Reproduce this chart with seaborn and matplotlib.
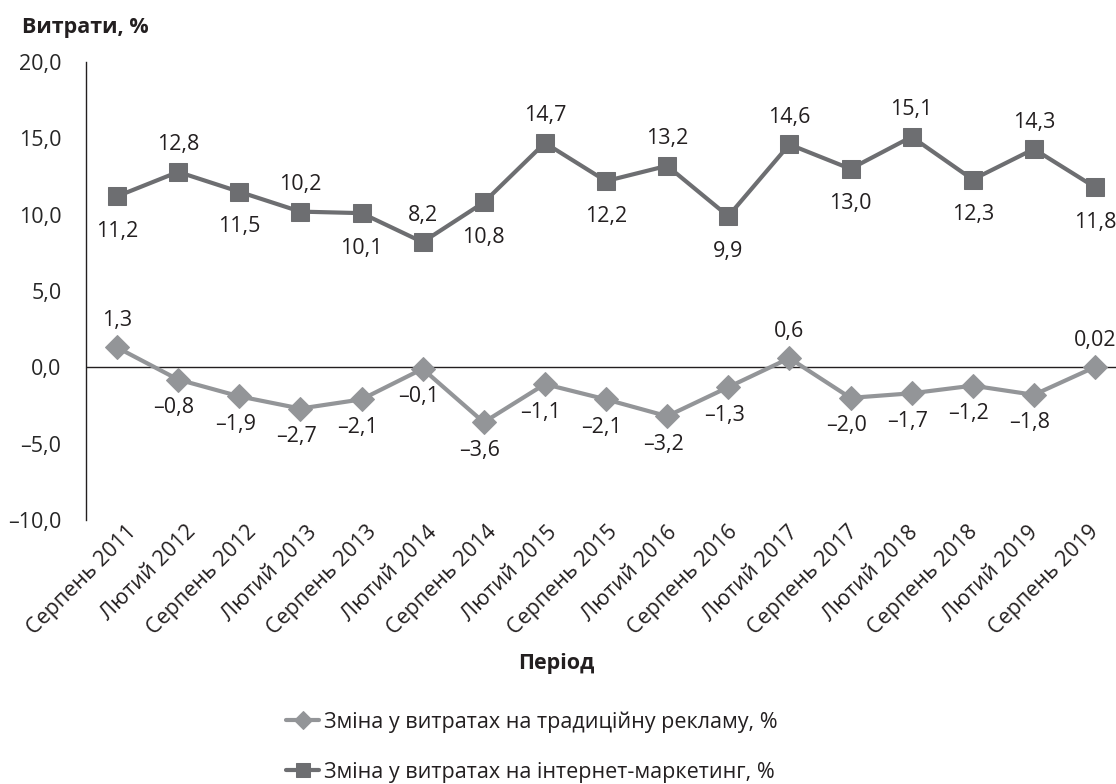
import matplotlib
matplotlib.use("Agg")
import matplotlib.pyplot as plt
import numpy as np
import pandas as pd
import seaborn as sns

# data
periods = ["Серпень 2011", "Лютий 2012", "Серпень 2012", "Лютий 2013", "Серпень 2013",
           "Лютий 2014", "Серпень 2014", "Лютий 2015", "Серпень 2015", "Лютий 2016",
           "Серпень 2016", "Лютий 2017", "Серпень 2017", "Лютий 2018", "Серпень 2018",
           "Лютий 2019", "Серпень 2019"]
traditional = [1.3, -0.8, -1.9, -2.7, -2.1, -0.1, -3.6, -1.1, -2.1, -3.2,
               -1.3, 0.6, -2.0, -1.7, -1.2, -1.8, 0.02]
internet = [11.2, 12.8, 11.5, 10.2, 10.1, 8.2, 10.8, 14.7, 12.2, 13.2,
            9.9, 14.6, 13.0, 15.1, 12.3, 14.3, 11.8]
trad_labels = ["1,3", "–0,8", "–1,9", "–2,7", "–2,1", "–0,1", "–3,6", "–1,1", "–2,1", "–3,2",
               "–1,3", "0,6", "–2,0", "–1,7", "–1,2", "–1,8", "0,02"]
net_labels = ["11,2", "12,8", "11,5", "10,2", "10,1", "8,2", "10,8", "14,7", "12,2", "13,2",
              "9,9", "14,6", "13,0", "15,1", "12,3", "14,3", "11,8"]
yticks = [-10, -5, 0, 5, 10, 15, 20]
ytick_labels = ["–10,0", "–5,0", "0,0", "5,0", "10,0", "15,0", "20,0"]
name_trad = "Зміна у витратах на традиційну рекламу, %"
name_net = "Зміна у витратах на інтернет-маркетинг, %"

sns.set_style("white")
plt.rcParams['font.family'] = ['Open Sans', 'DejaVu Sans']
plt.rcParams['text.color'] = '#231f20'

c_trad = "#939598"
c_net = "#6d6e71"
fs = 15.5

W, H = 1116, 784
fig = plt.figure(figsize=(W / 100, H / 100), dpi=100)
x0, x16 = 117, 1095
step = (x16 - x0) / 16
left = x0 - step / 2
right = x16 + step / 2
top, bottom = 62, 520
ax = fig.add_axes([left / W, 1 - bottom / H, (right - left) / W, (bottom - top) / H])

df = pd.DataFrame({"x": np.arange(len(periods)), "trad": traditional, "net": internet})

sns.lineplot(data=df, x="x", y="trad", ax=ax, color=c_trad, lw=3, marker="D",
             markersize=12, markeredgecolor=c_trad, label=name_trad)
sns.lineplot(data=df, x="x", y="net", ax=ax, color=c_net, lw=3, marker="s",
             markersize=13, markeredgecolor=c_net, label=name_net)

ax.axhline(0, color="#231f20", lw=1, zorder=1)

# point labels
for i, (v, t) in enumerate(zip(internet, net_labels)):
    dy = -35 if i % 2 == 0 else 27
    ax.annotate(t, (i, v), xytext=(0, dy), textcoords="offset pixels",
                ha="center", va="center", fontsize=fs)
for i, (v, t) in enumerate(zip(traditional, trad_labels)):
    dy = 27 if v > 0 else -28
    ax.annotate(t, (i, v), xytext=(-4 if v < 0 else 0, dy), textcoords="offset pixels",
                ha="center", va="center", fontsize=fs)

ax.set_xlim(-0.5, 16.5)
ax.set_ylim(-10, 20)
ax.set_yticks(yticks)
ax.set_yticklabels(ytick_labels, fontsize=fs)
ax.set_xticks(range(len(periods)))
ax.set_xticklabels([])
# rotated period labels; in the source they drift slightly left of the points
for i, p in enumerate(periods):
    ax.annotate(p, (i, 0), xycoords=("data", "axes fraction"), xytext=(16 - i, -9),
                textcoords="offset pixels", rotation=45, ha="right", va="center",
                rotation_mode="anchor", fontsize=fs)
ax.tick_params(axis="x", length=0, pad=0)
ax.tick_params(axis="y", length=8, width=1, color="#231f20", direction="out", pad=10)
ax.set_xlabel("")
ax.set_ylabel("")

for s in ["top", "right", "bottom"]:
    ax.spines[s].set_visible(False)
ax.spines["left"].set_color("#231f20")
ax.spines["left"].set_linewidth(1)

fig.text(22 / W, 1 - 27 / H, "Витрати, %", fontsize=fs, fontweight="bold",
         ha="left", va="center")
fig.text(556 / W, 1 - 664 / H, "Період", fontsize=fs, fontweight="bold",
         ha="center", va="center")

ax.legend(loc="center left", bbox_to_anchor=(267 / W, 1 - 747 / H),
          bbox_transform=fig.transFigure, frameon=False, fontsize=fs,
          handlelength=1.5, handletextpad=0.25, labelspacing=1.35, markerscale=0.75)

fig.savefig("out.png", dpi=100)
